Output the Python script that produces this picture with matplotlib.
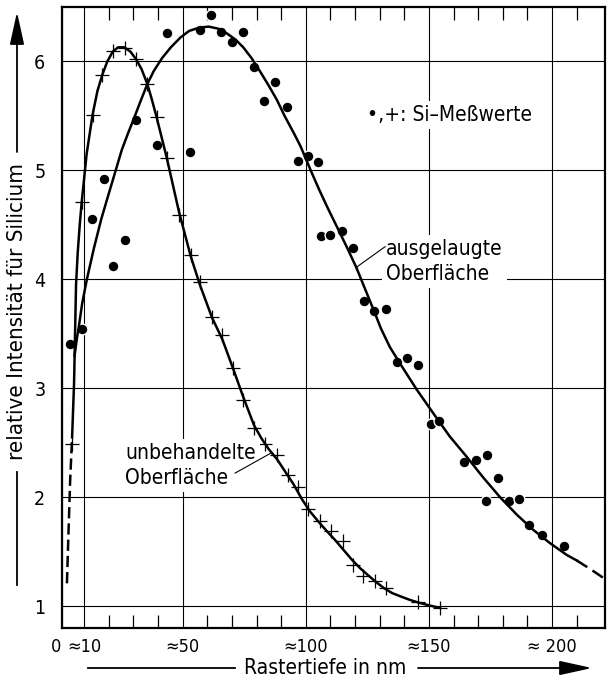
import matplotlib
matplotlib.use('Agg')
from matplotlib import pyplot as plt
from matplotlib import font_manager
from matplotlib.lines import Line2D
from matplotlib.transforms import ScaledTranslation

# pick a narrow face if one is installed
fonts = font_manager.fontManager.ttflist
if any(f.name == 'DejaVu Sans' and f.stretch == 'condensed' for f in fonts):
    plt.rcParams['font.family'] = 'DejaVu Sans'
    plt.rcParams['font.stretch'] = 'condensed'
elif any(f.name == 'Liberation Sans Narrow' for f in fonts):
    plt.rcParams['font.family'] = 'Liberation Sans Narrow'
else:
    plt.rcParams['font.family'] = 'DejaVu Sans'

# ausgelaugte Oberflaeche, measured points
dots_x = [4.4, 9.1, 13.3, 17.9, 21.9, 26.4, 31.1, 39.4, 43.6, 52.9, 57.0, 61.4,
          65.7, 69.9, 74.4, 79.1, 83.1, 87.4, 92.4, 96.7, 100.7, 104.8, 106.1,
          109.9, 114.6, 119.3, 123.8, 127.7, 132.5, 136.9, 141.2, 145.7, 150.7,
          154.2, 164.4, 169.0, 173.4, 177.9, 173.0, 182.5, 186.4, 190.8, 195.8,
          205.0]
dots_y = [3.41, 3.54, 4.55, 4.92, 4.12, 4.36, 5.46, 5.23, 6.26, 5.17, 6.29, 6.43,
          6.27, 6.18, 6.27, 5.95, 5.64, 5.81, 5.58, 5.09, 5.13, 5.08, 4.40,
          4.41, 4.44, 4.29, 3.80, 3.71, 3.73, 3.24, 3.28, 3.21, 2.67,
          2.70, 2.32, 2.34, 2.39, 2.18, 1.97, 1.97, 1.98, 1.75, 1.65,
          1.55]

# unbehandelte Oberflaeche, measured points
cross_x = [5.0, 9.0, 13.4, 17.4, 21.6, 26.4, 31.1, 35.7, 39.4, 43.6, 48.5, 53.3,
           57.0, 61.9, 66.1, 70.3, 74.6, 79.0, 83.3, 88.3, 92.8, 96.8, 101.0,
           105.9, 110.3, 115.0, 119.1, 123.4, 128.2, 132.4, 145.7, 154.5]
cross_y = [2.49, 4.71, 5.51, 5.88, 6.10, 6.12, 6.02, 5.79, 5.49, 5.11, 4.59, 4.22,
           3.98, 3.65, 3.49, 3.19, 2.89, 2.64, 2.49, 2.39, 2.20, 2.09, 1.89,
           1.78, 1.69, 1.60, 1.38, 1.28, 1.23, 1.17, 1.04, 0.98]

# drawn curves
curve_u_x = [5.1, 5.9, 6.3, 6.7, 7.4, 8.2, 9.0, 11.0, 13.4, 15.4, 17.4, 19.4,
             21.6, 23.8, 26.3, 28.8, 31.1, 33.3, 35.7, 37.5, 39.4, 43.6, 48.5,
             53.3, 57.0, 61.9, 66.1, 70.5, 74.6, 79.0, 82.0, 85.0, 88.3, 91.5,
             95.0, 98.5, 101.7, 105.0, 108.5, 111.8, 115.2, 118.6, 122.0, 125.0,
             128.1, 131.5, 135.1, 138.5, 142.0, 145.5, 148.8, 151.5, 154.5]
curve_u_y = [2.55, 3.05, 3.50, 3.95, 4.25, 4.50, 4.71, 5.15, 5.51, 5.73, 5.88, 6.00,
             6.09, 6.13, 6.13, 6.09, 6.02, 5.93, 5.79, 5.65, 5.49, 5.11, 4.62,
             4.21, 3.95, 3.65, 3.45, 3.18, 2.92, 2.66, 2.54, 2.44, 2.35, 2.24,
             2.12, 1.98, 1.87, 1.78, 1.69, 1.61, 1.52, 1.43, 1.35, 1.29,
             1.23, 1.17, 1.12, 1.09, 1.06, 1.035, 1.015, 1.00, 0.985]
curve_u_dash_x = [3.0, 3.6, 4.3, 5.1]
curve_u_dash_y = [1.21, 1.65, 2.15, 2.55]

curve_a_x = [6.1, 7.0, 7.8, 9.2, 11.1, 13.9, 16.9, 19.9, 22.8, 25.3, 27.8, 30.1,
             32.8, 35.6, 38.2, 41.6, 45.2, 49.1, 52.6, 56.6, 60.6, 64.6, 67.8,
             71.5, 74.6, 78.0, 81.4, 84.9, 88.2, 91.4, 95.2, 97.9, 102.0, 105.3,
             108.8, 112.7, 116.8, 120.5, 124.1, 127.7, 130.5, 134.1, 138.2, 145.0,
             151.8, 158.4, 165.4, 172.1, 178.9, 185.7, 192.4, 199.1, 206.0, 210.0]
curve_a_y = [3.30, 3.45, 3.56, 3.78, 4.00, 4.28, 4.55, 4.78, 5.00, 5.19, 5.34, 5.47,
             5.63, 5.79, 5.91, 6.03, 6.13, 6.22, 6.28, 6.31, 6.32, 6.30, 6.26,
             6.20, 6.13, 6.03, 5.91, 5.78, 5.65, 5.50, 5.34, 5.22, 5.00, 4.83,
             4.66, 4.48, 4.29, 4.11, 3.91, 3.71, 3.55, 3.38, 3.23, 2.99,
             2.77, 2.56, 2.37, 2.18, 2.00, 1.84, 1.70, 1.58, 1.47, 1.42]
curve_a_dash_x = [210.0, 215.6, 221.5]
curve_a_dash_y = [1.42, 1.34, 1.25]

x_ticks = [1, 10, 50, 100, 150, 200]
x_labels = ['0', '≈10', '≈50', '≈100', '≈150', '≈ 200']
x_minor = [20, 30, 40, 60, 70, 80, 90, 110, 120, 130, 140, 160, 170, 180, 190, 210]
y_ticks = [1, 2, 3, 4, 5, 6]

W, H = 614, 688
fig = plt.figure(figsize=(W / 100, H / 100), dpi=100)
ax = fig.add_axes([62 / W, 60 / H, 543 / W, 621 / H])

ax.set_xlim(1, 221.5)
ax.set_ylim(0.8, 6.5)
ax.set_xticks(x_ticks)
ax.set_xticklabels(x_labels)
ax.set_xticks(x_minor, minor=True)
ax.set_yticks(y_ticks)
ax.tick_params(which='major', length=0)
ax.tick_params(axis='x', which='major', pad=7, labelsize=13)
ax.tick_params(axis='y', which='major', pad=12, labelsize=14)
ax.tick_params(axis='x', which='minor', direction='in', length=9.5, width=0.9,
               top=True, bottom=True)
ax.grid(True, which='major', color='k', lw=0.8)
ax.set_axisbelow(True)
for s in ax.spines.values():
    s.set_linewidth(1.6)

# '0' sits a little left of the border in the original
lab0 = ax.get_xticklabels()[0]
lab0.set_transform(lab0.get_transform() + ScaledTranslation(-4 / 72, 0, fig.dpi_scale_trans))

ax.plot(curve_u_x, curve_u_y, color='k', lw=1.8, zorder=4)
ax.plot(curve_u_dash_x, curve_u_dash_y, color='k', lw=1.8, dashes=(4.5, 2), zorder=4)
ax.plot(curve_a_x, curve_a_y, color='k', lw=1.8, zorder=4)
ax.plot(curve_a_dash_x, curve_a_dash_y, color='k', lw=1.8, dashes=(5, 2.5), zorder=4)

ax.plot(dots_x, dots_y, 'o', ms=7.8, mfc='k', mec='white', mew=1.0, zorder=3)
ax.plot(cross_x, cross_y, '+', ms=10, color='k', mew=0.9, zorder=5)

box = dict(facecolor='white', edgecolor='none', pad=3)
ax.text(124.9, 5.51, '•,+: Si–Meßwerte', ha='left', va='center', fontsize=15,
        bbox=box, zorder=6)
ax.text(132.6, 4.166, 'ausgelaugte\nOberfläche', ha='left', va='center',
        fontsize=15, linespacing=1.3, bbox=box, zorder=6)
ax.plot([120.5, 132.2], [4.11, 4.30], color='k', lw=0.8, zorder=7)
ax.text(26.6, 2.291, 'unbehandelte\nOberfläche', ha='left', va='center',
        fontsize=15, linespacing=1.3, bbox=box, zorder=6)
ax.plot([86.2, 71.3], [2.41, 2.222], color='k', lw=0.8, zorder=7)

# axis captions with the long arrows
arrow = dict(arrowstyle='-|>,head_length=1.0,head_width=0.22', color='k', lw=1.3,
             mutation_scale=20, shrinkA=0, shrinkB=0)
fig.text(17 / W, 1 - 311 / H, 'relative Intensität für Silicium', rotation=90,
         ha='center', va='center', fontsize=16)
fig.add_artist(Line2D([17 / W, 17 / W], [1 - 585 / H, 1 - 472 / H], color='k', lw=1.3))
ax.annotate('', xy=(17 / W, 1 - 12 / H), xytext=(17 / W, 1 - 152 / H),
            xycoords='figure fraction', textcoords='figure fraction',
            arrowprops=arrow, annotation_clip=False)

fig.text(325 / W, 1 - 668 / H, 'Rastertiefe in nm', ha='center', va='center',
         fontsize=15)
fig.add_artist(Line2D([88 / W, 235 / W], [1 - 668 / H, 1 - 668 / H], color='k', lw=1.3))
ax.annotate('', xy=(592 / W, 1 - 668 / H), xytext=(418 / W, 1 - 668 / H),
            xycoords='figure fraction', textcoords='figure fraction',
            arrowprops=arrow, annotation_clip=False)

fig.savefig('out.png', dpi=100)
